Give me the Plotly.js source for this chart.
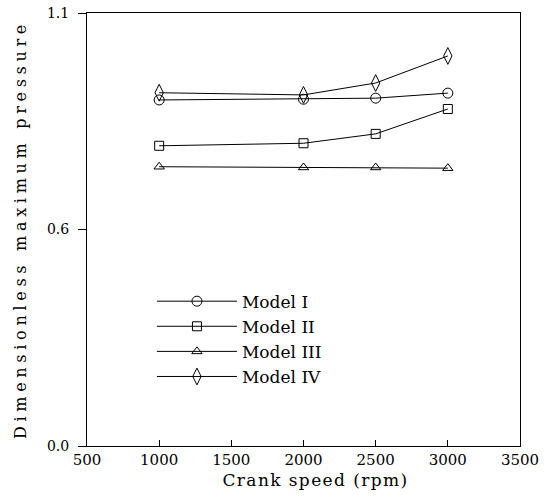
<!DOCTYPE html>
<html>
<head>
<meta charset="utf-8">
<script src="https://cdn.plot.ly/plotly-3.0.1.min.js"></script>
<style>
html,body{margin:0;padding:0;background:#fff;}
#chart{width:551px;height:503px;}
#chart .ytitle{letter-spacing:4.7px; translate: -14px 0;}
#chart .xtitle{letter-spacing:1.4px; translate: 12px 0;}
</style>
</head>
<body>
<div id="chart"></div>
<script>
const speeds = [1000, 2000, 2500, 3000];
const modelI   = [0.959, 0.961, 0.964, 0.978];
const modelII  = [0.832, 0.839, 0.865, 0.934];
const modelIII = [0.774, 0.772, 0.772, 0.770];
const modelIV  = [0.979, 0.973, 1.006, 1.081];
const seriesNames = ["Model I", "Model II", "Model III", "Model IV"];
const xTickVals = [500, 1000, 1500, 2000, 2500, 3000, 3500];
const yTickVals = [0.0, 0.6, 1.2];
const yTickText = ["0.0", "0.6", "1.1"];

const symbols = ["circle-open", "square-open", "triangle-up-open", "diamond-tall-open"];
const sizes = [10, 9, 9, 12];
const data = [modelI, modelII, modelIII, modelIV].map((ys, i) => ({
  x: speeds, y: ys, name: seriesNames[i], type: "scatter", mode: "lines+markers",
  line: {color: "#000", width: 1},
  marker: {symbol: symbols[i], size: sizes[i], color: "#000", line: {width: 1, color: "#000"}}
}));

const serif = "DejaVu Serif, Liberation Serif, serif";
const layout = {
  width: 551, height: 503,
  margin: {l: 87, r: 31, t: 13, b: 57},
  paper_bgcolor: "#fff", plot_bgcolor: "#fff",
  font: {family: serif, color: "#000", size: 14},
  showlegend: true,
  legend: {x: 0.15, y: 0.375, xanchor: "left", yanchor: "top", bgcolor: "rgba(0,0,0,0)",
           font: {family: serif, size: 17, color: "#000"}, itemwidth: 80, tracegroupgap: 0},
  xaxis: {
    range: [500, 3500], tickvals: xTickVals, ticks: "inside", ticklen: 6, tickcolor: "#000",
    showline: true, linecolor: "#000", linewidth: 1, mirror: true, showgrid: false, zeroline: false,
    tickfont: {family: serif, size: 15},
    title: {text: "Crank speed (rpm)", font: {family: serif, size: 17}, standoff: 6}
  },
  yaxis: {
    range: [0, 1.2], tickvals: yTickVals, ticktext: yTickText, ticks: "outside", ticklen: 8, tickcolor: "#000",
    ticklabelstandoff: 6,
    showline: true, linecolor: "#000", linewidth: 1, mirror: true, showgrid: false, zeroline: false,
    tickfont: {family: serif, size: 14},
    title: {text: "Dimensionless maximum pressure", font: {family: serif, size: 16}, standoff: 2}
  }
};
Plotly.newPlot("chart", data, layout, {staticPlot: true});
</script>
</body>
</html>
